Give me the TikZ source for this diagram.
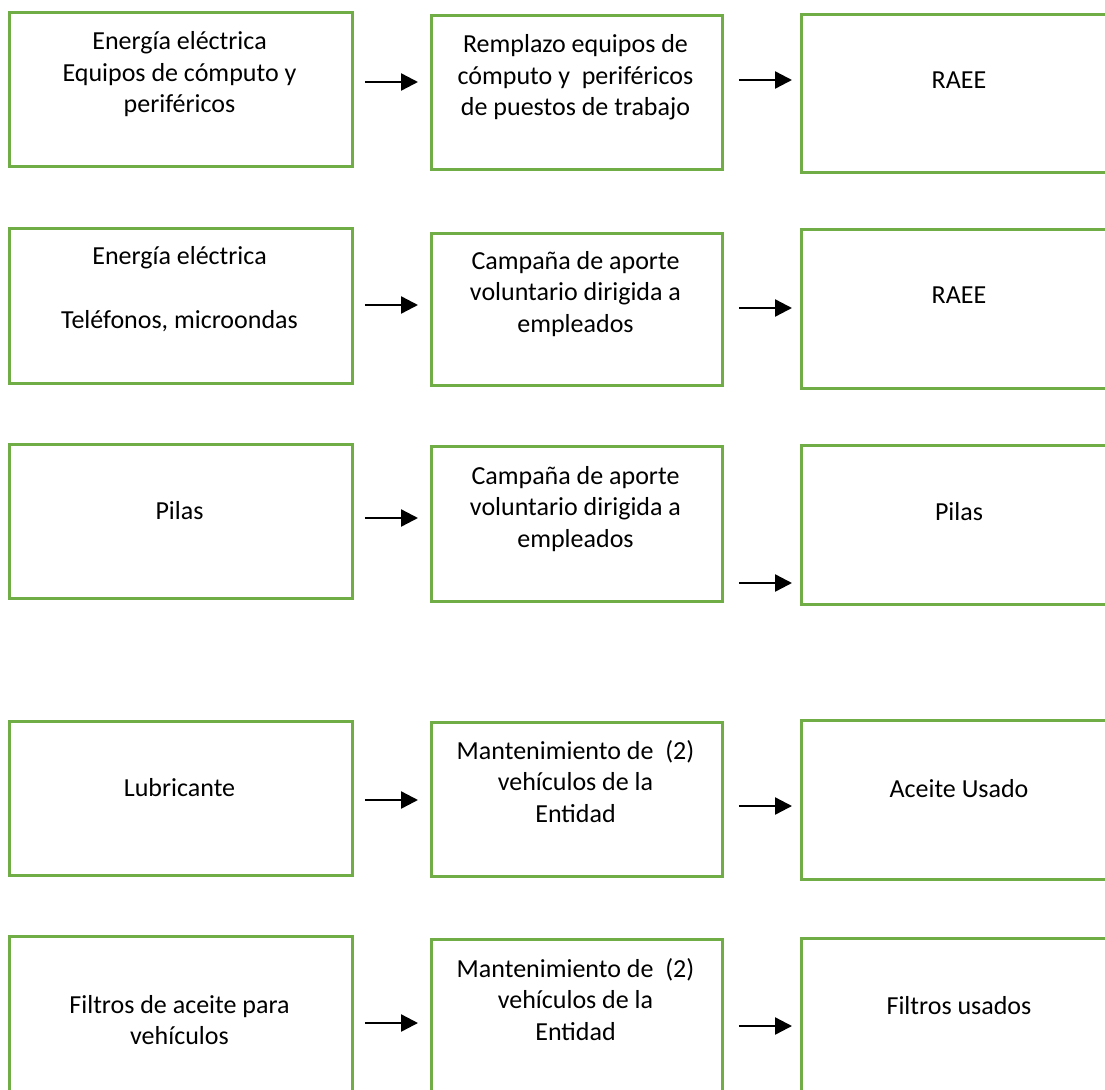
\documentclass[tikz,border=0pt]{standalone}
\usepackage{fontspec}
\setmainfont{Carlito}
\usetikzlibrary{arrows.meta}
\definecolor{boxgreen}{HTML}{70AD47}
\tikzset{
  box/.style={draw=boxgreen, line width=2.8pt, fill=none, inner sep=0pt, anchor=north west},
  txt/.style={anchor=base, inner sep=0pt, font=\fontsize{26}{31.5}\selectfont},
  arr/.style={draw=black, line width=2.4pt, -{Triangle[length=17pt,width=17pt]}}
}
\newcommand{\bx}[5]{\node[box, minimum width={(#4-#2)*1pt}, minimum height={(#5-#3)*1pt}] (#1) at (#2,#3) {};}
\newcommand{\tl}[1]{\begin{tabular}[t]{@{}c@{}}#1\end{tabular}}
\begin{document}
\begin{tikzpicture}[x=1pt,y=-1pt]
\useasboundingbox (0,0) rectangle (1105,1089);
\clip (0,0) rectangle (1105,1089);
% boxes
\bx{L1}{8}{11}{351}{165}
\bx{M1}{430}{14}{721}{168}
\bx{R1}{800}{13}{1118}{171}
\bx{L2}{8}{227}{351}{382}
\bx{M2}{430}{232}{721}{384}
\bx{R2}{800}{228}{1118}{387}
\bx{L3}{8}{443}{351}{597}
\bx{M3}{430}{445}{721}{600}
\bx{R3}{800}{444}{1118}{603}
\bx{L4}{8}{720}{351}{874}
\bx{M4}{430}{721}{721}{875}
\bx{R4}{800}{719}{1118}{878}
\bx{L5}{8}{935}{351}{1100}
\bx{M5}{430}{938}{721}{1100}
\bx{R5}{800}{937}{1118}{1100}
% texts
\node[txt] (tL1) at (179.5,50) {\tl{Energía eléctrica\\Equipos de cómputo y\\periféricos}};
\node[txt] (tM1) at (575.5,53) {\tl{Remplazo equipos de\\cómputo y\ \ periféricos\\de puestos de trabajo}};
\node[txt] (tR1) at (959,89) {RAEE};
\node[txt] (tL2) at (179.5,264) {\tl{Energía eléctrica\\[33pt]Teléfonos, microondas}};
\node[txt] (tM2) at (575.5,269) {\tl{Campaña de aporte\\voluntario dirigida a\\empleados}};
\node[txt] (tR2) at (959,303) {RAEE};
\node[txt] (tL3) at (179.5,519) {Pilas};
\node[txt] (tM3) at (575.5,484) {\tl{Campaña de aporte\\voluntario dirigida a\\empleados}};
\node[txt] (tR3) at (959,520) {Pilas};
\node[txt] (tL4) at (179.5,796) {Lubricante};
\node[txt] (tM4) at (575.5,759) {\tl{Mantenimiento de\ \ (2)\\vehículos de la\\Entidad}};
\node[txt] (tR4) at (959,797) {Aceite Usado};
\node[txt] (tL5) at (179.5,1013) {\tl{Filtros de aceite para\\vehículos}};
\node[txt] (tM5) at (575.5,977) {\tl{Mantenimiento de\ \ (2)\\vehículos de la\\Entidad}};
\node[txt] (tR5) at (959,1014) {Filtros usados};
% arrow rows
\coordinate (y1a) at (0,82);   \coordinate (y1b) at (0,80);
\coordinate (y2a) at (0,305);  \coordinate (y2b) at (0,308);
\coordinate (y3a) at (0,518);  \coordinate (y3b) at (0,583);
\coordinate (y4a) at (0,800);  \coordinate (y4b) at (0,806);
\coordinate (y5a) at (0,1023); \coordinate (y5b) at (0,1026);
\foreach \r in {1,...,5}{
  \draw[arr, shorten <=11pt, shorten >=12pt] (L\r.east |- y\r a) -- (M\r.west |- y\r a);
  \draw[arr, shorten <=15pt, shorten >=8pt] (M\r.east |- y\r b) -- (R\r.west |- y\r b);
}
\end{tikzpicture}
\end{document}
